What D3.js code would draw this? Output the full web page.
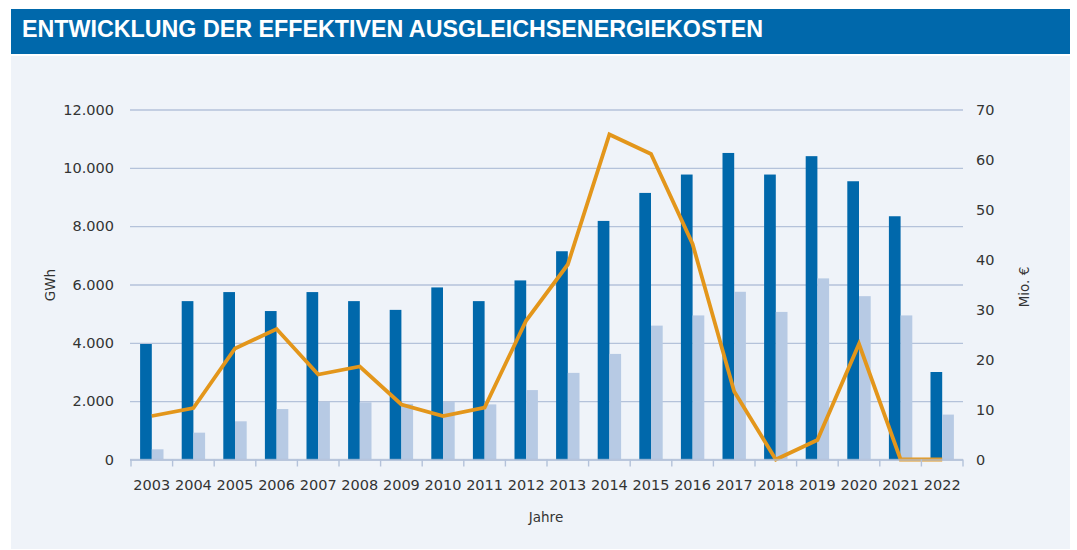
<!DOCTYPE html>
<html><head><meta charset="utf-8">
<script src="https://cdn.jsdelivr.net/npm/d3@7"></script>
<style>
html,body{margin:0;padding:0;background:#fff;}
svg{display:block;}
text{font-family:"DejaVu Sans",Verdana,sans-serif;}
</style></head>
<body>
<svg id="chart" width="1077" height="550"></svg>
<script>
const years = ["2003","2004","2005","2006","2007","2008","2009","2010","2011","2012","2013","2014","2015","2016","2017","2018","2019","2020","2021","2022"];
const gwhDark = [3960,5430,5740,5090,5740,5430,5130,5900,5430,6140,7140,8180,9140,9770,10510,9770,10400,9540,8340,3000];
const gwhLight = [350,920,1310,1730,1980,1960,1910,1980,1890,2380,2970,3620,4590,4940,5750,5060,6210,5600,4940,1540];
const costMio = [8.7,10.3,22.2,26.1,17.0,18.6,11.0,8.7,10.4,27.8,39.0,65.0,61.1,43.1,13.6,0,3.9,23.1,0,0];
const leftTicks = [0,2000,4000,6000,8000,10000,12000];
const rightTicks = [0,10,20,30,40,50,60,70];
const titleText = "ENTWICKLUNG DER EFFEKTIVEN AUSGLEICHSENERGIEKOSTEN";

const svg = d3.select("#chart");
const loc = d3.formatLocale({decimal:",", thousands:".", grouping:[3], currency:["","€"]});
const fmt = loc.format(",d");

// panels
svg.append("rect").attr("x",11).attr("y",9).attr("width",1059).attr("height",45).attr("fill","#0068ab");
svg.append("rect").attr("x",11).attr("y",56).attr("width",1059).attr("height",493).attr("fill","#eff3f9");
svg.append("text").attr("x",22).attr("y",37).text(titleText)
  .attr("fill","#fff").attr("font-size",23).attr("font-weight","bold")
  .style("font-family","'Liberation Sans Narrow','Arial Narrow','Liberation Sans',Arial,sans-serif")
  .attr("textLength",741).attr("lengthAdjust","spacingAndGlyphs");

const x0 = 131, x1 = 963, yTop = 109.5, yBot = 459.5;
const x = d3.scaleBand().domain(years).range([x0,x1]).paddingInner(0).paddingOuter(0);
const y = d3.scaleLinear().domain([0,12000]).range([yBot,yTop]);
const y2 = d3.scaleLinear().domain([0,70]).range([yBot,yTop]);
const gridColor = "#b4c2da";

// left axis with grid
const gL = svg.append("g").attr("transform",`translate(${x0},0)`)
  .call(d3.axisLeft(y).tickValues(leftTicks).tickFormat(fmt).tickSize(-(x1-x0)).tickPadding(17));
gL.select(".domain").remove();
gL.selectAll(".tick line").attr("stroke",gridColor).attr("stroke-width",1.4).attr("x1",-1);
gL.selectAll(".tick text").attr("fill","#333").attr("font-size",14.5).style("font-family","'DejaVu Sans',sans-serif");

// right axis
const gR = svg.append("g").attr("transform",`translate(${x1},0)`)
  .call(d3.axisRight(y2).tickValues(rightTicks).tickSize(0).tickPadding(13));
gR.select(".domain").remove();
gR.selectAll(".tick text").attr("fill","#333").attr("font-size",14.5).style("font-family","'DejaVu Sans',sans-serif");

// bars
const bw = 11.7;
const groups = svg.append("g");
groups.selectAll("rect.dark").data(years).join("rect").attr("class","dark")
  .attr("x",d=>x(d)+x.bandwidth()/2-bw).attr("width",bw)
  .attr("y",(d,i)=>y(gwhDark[i])).attr("height",(d,i)=>yBot-y(gwhDark[i]))
  .attr("fill","#0068ab");
groups.selectAll("rect.light").data(years).join("rect").attr("class","light")
  .attr("x",d=>x(d)+x.bandwidth()/2).attr("width",bw)
  .attr("y",(d,i)=>y(gwhLight[i])).attr("height",(d,i)=>yBot-y(gwhLight[i]))
  .attr("fill","#b7cae4");

// line
const line = d3.line().x((d,i)=>x(years[i])+x.bandwidth()/2).y(d=>y2(d));
svg.append("path").datum(costMio).attr("d",line).attr("fill","none")
  .attr("stroke","#e3961b").attr("stroke-width",3.8).attr("stroke-linejoin","miter");

// x axis
const gX = svg.append("g").attr("transform",`translate(0,${yBot})`)
  .call(d3.axisBottom(x).tickSize(0).tickPadding(20));
gX.select(".domain").remove();
gX.selectAll(".tick text").attr("fill","#333").attr("font-size",14.5).style("font-family","'DejaVu Sans',sans-serif");
const bounds = years.map(d=>x(d)).concat([x1]);
svg.append("g").selectAll("line").data(bounds).join("line")
  .attr("x1",d=>d).attr("x2",d=>d).attr("y1",yBot).attr("y2",yBot+7)
  .attr("stroke",gridColor).attr("stroke-width",1.4);
svg.append("line").attr("x1",x0-1).attr("x2",x1).attr("y1",yBot+0.3).attr("y2",yBot+0.3)
  .attr("stroke",gridColor).attr("stroke-width",2.2).attr("opacity",0.65);

// axis titles
svg.append("text").attr("x",546).attr("y",522).attr("text-anchor","middle")
  .attr("font-size",13.5).attr("fill","#333").text("Jahre");
svg.append("text").attr("transform","translate(55,285) rotate(-90)").attr("text-anchor","middle")
  .attr("font-size",13.5).attr("fill","#333").text("GWh");
svg.append("text").attr("transform","translate(1029,287) rotate(-90)").attr("text-anchor","middle")
  .attr("font-size",13.5).attr("fill","#333").text("Mio. €");
</script>
</body></html>
